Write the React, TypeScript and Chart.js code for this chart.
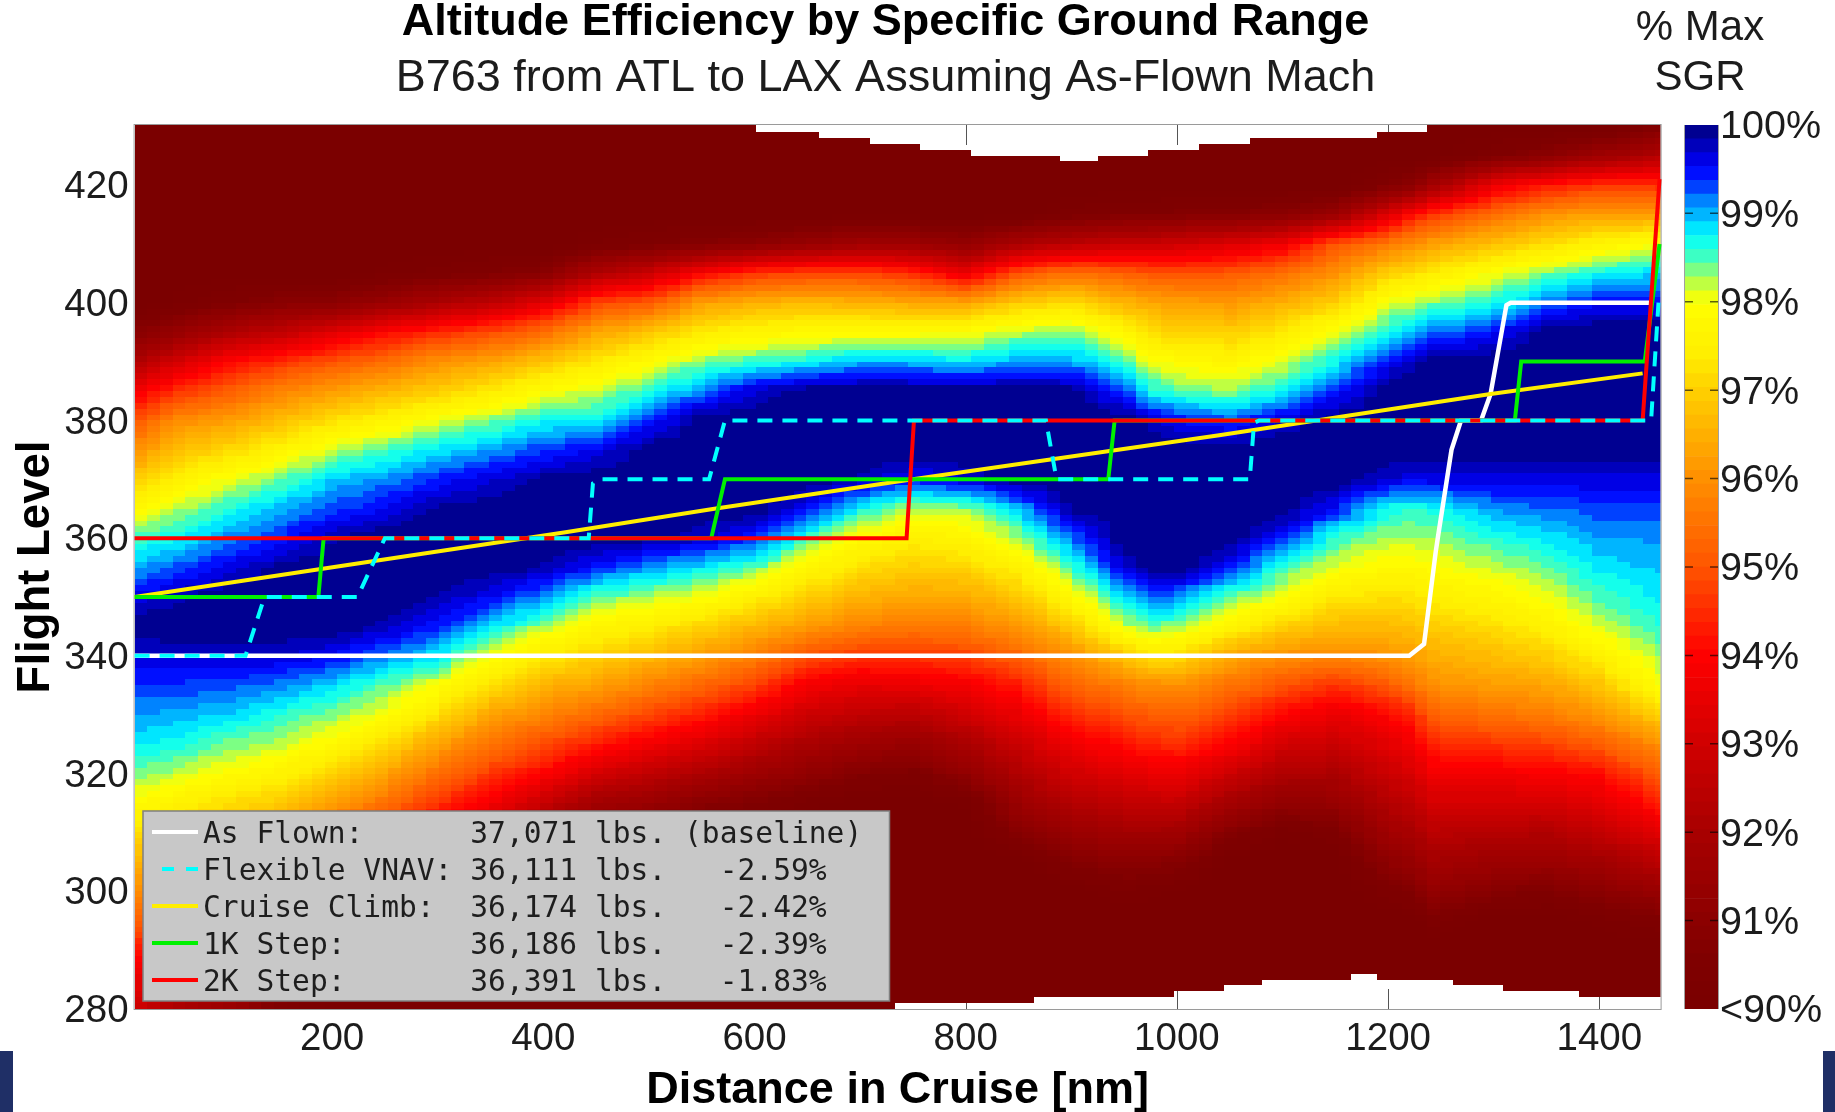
import React, { useEffect, useRef } from "react";
import { Chart, registerables } from "chart.js";

Chart.register(...registerables);

// ---- Heat map: % of max SGR at these stations (nm) and flight levels ----
const FLIGHT_LEVELS = [280,285,290,295,300,305,310,315,320,325,330,335,340,345,350,355,360,365,370,375,380,385,390,395,400,405,410,415,420,425,430];
const STATIONS = [13,50,100,150,200,250,300,350,400,450,500,550,600,650,700,750,800,850,900,950,975,1000,1050,1100,1150,1200,1225,1240,1300,1350,1400,1458];
const col13 = [93,93.6,94.3,95.2,96,96.6,97.25,97.9,98.4,98.8,99.1,99.35,99.65,100,99.6,99,98.5,97.8,96.9,96,94.9,93.7,92.1,90.8,90,90,90,90,90,90,90];
const col50 = [92,93,94,94.8,95.5,96.3,96.9,97.6,98.2,98.7,99,99.35,99.7,100,99.8,99.25,98.7,98.2,97.5,96.7,95.9,94.5,93,91.3,90.2,90,90,90,90,90,90];
const col100 = [91.5,92.5,93.6,94.4,95.1,95.9,96.5,97.2,97.9,98.4,98.9,99.3,99.7,100,100,99.6,99.1,98.6,98,97.1,96.2,95.1,94,92.1,90.6,90,90,90,90,90,90];
const col150 = [90.5,91,92.2,93.5,94.5,95.5,96.3,96.9,97.6,98.2,98.6,99.15,99.7,100,100,99.9,99.4,99,98.4,97.6,96.7,95.75,94.5,92.6,90.9,90,90,90,90,90,90];
const col200 = [90,90.6,91.4,92.4,93.4,94.4,95.3,96.2,97,97.8,98.35,98.85,99.55,100,100,100,99.8,99.3,98.9,98.2,97.2,96.2,95,93.3,91,90,90,90,90,90,90];
const col250 = [90,90,90.4,91.2,92.4,93.5,94.5,95.5,96.3,97.2,98,98.45,99.15,99.8,100,100,100,99.55,99.1,98.5,97.6,96.6,95.4,94,91.5,90.2,90,90,90,90,90];
const col300 = [90,90,90,90.3,91.2,92.4,93.5,94.55,95.45,96.3,97.2,98,98.8,99.45,99.85,100,100,99.9,99.4,98.8,98.05,96.95,96,94.45,92.1,90.4,90,90,90,90,90];
const col350 = [90,90,90,90,90.4,91.3,92.6,93.8,94.65,95.5,96.35,97.2,98,98.9,99.55,100,100,100,99.65,99.05,98.35,97.35,96.3,94.85,92.6,90.6,90,90,90,90,90];
const col400 = [90,90,90,90,90,90.5,91.5,92.75,94,94.9,95.8,96.55,97.4,98.25,99.1,99.85,100,100,99.9,99.35,98.7,97.9,96.8,95.4,93.4,90.9,90,90,90,90,90];
const col450 = [90,90,90,90,90,90,90.6,91.8,93.1,94.3,95.35,96.3,97,97.7,98.45,99.45,100,100,100,99.55,98.7,98.2,97.35,96.3,94.8,92.2,90.3,90,90,90,90];
const col500 = [90,90,90,90,90,90,90.4,91.45,92.6,93.75,94.8,95.8,96.65,97.45,98.25,99.05,99.9,100,100,100,99.35,98.55,97.9,96.8,95.1,92.9,90.5,90,90,90,90];
const col550 = [90,90,90,90,90,90,90,90.9,92.1,93.3,94.3,95.3,96.25,97.05,98,98.8,99.75,100,100,100,100,99.15,98.35,97.4,96.25,93.9,90.8,90,90,90,90];
const col600 = [90,90,90,90,90,90,90,90.6,91.6,92.6,93.6,94.75,95.7,96.6,97.5,98.45,99.35,100,100,100,100,99.7,98.55,97.65,96.55,94.6,91,90,90,90,90];
const col650 = [90,90,90,90,90,90,90,90.2,91.2,92,92.9,93.8,95,96.15,97,97.75,98.55,99.5,100,100,100,100,98.7,97.8,96.65,94.75,91.4,90,90,90,90];
const col700 = [90,90,90,90,90,90,90,90,90.7,91.65,92.6,93.5,94.6,95.75,96.55,97.2,97.85,98.7,99.8,100,100,100,99,97.85,96.55,94.8,91.75,90,90,90,90];
const col750 = [90,90,90,90,90,90,90,90,90.5,91.4,92.45,93.6,94.6,95.6,96.35,96.95,97.5,98.2,99.5,100,100,100,98.95,97.85,96.4,94.45,91.6,90,90,90,90];
const col800 = [90,90,90,90,90,90,90,90.2,91.2,92.05,92.95,93.8,94.75,95.7,96.4,97.05,97.65,98.3,99.7,100,100,100,98.8,97.95,96.35,93.55,91.25,90,90,90,90];
const col850 = [90,90,90,90,90,90,90.8,91.55,92.2,92.85,93.55,94.3,95.25,96.15,96.85,97.55,98.25,98.95,100,100,100,100,99.05,98.2,96.95,95,92.1,90,90,90,90];
const col900 = [90,90,90,90,90,90.7,91.5,92.25,93,93.7,94.45,95.25,96,96.9,97.8,98.5,99.2,99.9,100,100,100,99.95,99.05,98.35,97.2,95.45,92.5,90.4,90,90,90];
const col950 = [90,90,90,90,90.3,91,91.8,92.6,93.35,94.15,94.9,95.7,96.85,98.15,98.85,99.7,100,100,100,100,100,99.3,98.5,97.7,96.6,95.2,92.8,90.6,90,90,90];
const col975 = [90,90,90,90,90.2,90.9,91.8,92.7,93.55,94.4,95.15,95.95,97.3,98.45,99.25,100,100,100,100,100,99.8,98.65,98.05,97.2,96.4,95,92.8,90.6,90,90,90];
const col1000 = [90,90,90,90,90.1,90.8,91.75,92.75,93.7,94.5,95.25,96,97.25,98.3,99.15,100,100,100,100,100,99.55,98.45,97.85,97,96.25,94.95,92.95,90.7,90,90,90];
const col1050 = [90,90,90,90,90,90,90.8,91.85,92.9,94,94.75,95.55,96.35,97.65,98.45,99.45,100,100,100,100,99.3,98.3,97.7,96.95,96.15,95.05,93.25,90.8,90,90,90];
const col1100 = [90,90,90,90,90,90,90.2,91.2,92.15,93.05,94,95,96,97,98,98.55,99.45,100,100,100,99.7,98.7,98.1,97.35,96.5,95.4,93.7,90.95,90,90,90];
const col1150 = [90,90,90,90,90,90,90.5,91.35,92.1,92.85,93.55,94.55,95.85,96.65,97.35,98.05,98.55,99.45,100,100,100,99.4,98.7,98.05,97,96,95,91.5,90,90,90];
const col1200 = [90,90,90,90,90.4,91.1,91.75,92.3,92.85,93.4,94,95.1,96.1,96.65,97.2,97.8,98.25,98.65,99.7,100,100,100,99.5,98.7,98.05,97,95.6,93.25,90.6,90,90];
const col1225 = [90,90,90,90,90.7,91.4,92,92.6,93.2,93.8,94.45,95.55,96.25,96.75,97.3,97.8,98.25,98.6,99.6,100,100,100,99.8,99,98.25,97.2,96,94.2,91,90,90];
const col1240 = [90,90,90,90.4,91.25,91.85,92.45,93.1,93.7,94.4,95.2,96,96.45,96.95,97.45,97.9,98.3,98.65,99.65,100,100,100,100,99.15,98.35,97.4,96.25,94.55,91.7,90,90];
const col1300 = [90,90,90,90,90.8,91.6,92.3,93.05,93.8,94.6,95.5,96.2,96.7,97.2,97.7,98.2,98.6,99.1,99.65,100,100,100,100,99.45,98.65,98,96.75,95.4,93.6,90.5,90];
const col1350 = [90,90,90,90,90.6,91.5,92.25,93.05,93.85,94.75,95.65,96.35,96.95,97.55,98.05,98.4,98.8,99.2,99.65,100,100,100,100,100,99.2,98.35,97.2,96,94.2,91,90];
const col1400 = [90,90,90,90.2,91,91.8,92.6,93.4,94.1,95.15,96.1,96.8,97.55,98.15,98.5,98.8,99.05,99.3,99.65,100,100,100,100,100,99.5,98.7,97.6,96.25,94.6,91.6,90];
const col1458 = [90,90,90,90.5,91.45,92.45,93.4,94.35,95.15,96,97,98,98.3,98.6,98.8,98.95,99.1,99.3,99.65,100,100,100,100,100,99.5,98.9,98,96.2,94.5,92.3,90.6];
const COLUMNS = [col13,col50,col100,col150,col200,col250,col300,col350,col400,col450,col500,col550,col600,col650,col700,col750,col800,col850,col900,col950,col975,col1000,col1050,col1100,col1150,col1200,col1225,col1240,col1300,col1350,col1400,col1458];

// Edges of the no-data areas (white stair steps): the limit applies from each distance on
const TOP_GAP_NM = [602,656,712,763,807,895,921,969,1021,1073,1185,1234];
const TOP_GAP_FL = [429,428,427,426,425,424,425,426,427,428,429,431];
const BOTTOM_GAP_NM = [736,865,994,1047,1080,1166,1185,1256,1313,1384];
const BOTTOM_GAP_FL = [281,282,283,284,285,286,285,284,283,282];

// ---- Flight profiles ----
const asFlownNm = [13,1220,1234,1245,1247,1260,1269,1288,1297,1312,1316,1447];
const asFlownFl = [340,340,342,357.6,360,375,380,380,384.5,399.6,400,400];
const vnavNm = [13,118,136,224,250,443,447,454,557,572,876,886,1069,1073,1078,1449,1456];
const vnavFl = [340,340,350,350,360,360,369.3,370,370,380,380,370,370,379.6,380,380,400];
const climbNm = [13,191,421,562,750,1040,1297,1441];
const climbFl = [350,354.8,361,365,370,377.5,384.5,388];
const oneKNm = [13,187,192,559,572,935,941,1320,1326,1443,1457];
const oneKFl = [350,350,360,360,370,370,380,380,390,390,410];
const twoKNm = [13,744,751,1441,1457];
const twoKFl = [360,360,380,380,421];

// ---- Legend table ----
const LEGEND_NAMES = ["As Flown:","Flexible VNAV:","Cruise Climb:","1K Step:","2K Step:"];
const LEGEND_FUEL = ["37,071","36,111","36,174","36,186","36,391"];
const LEGEND_DELTA = [" (baseline)","   -2.59%","   -2.42%","   -2.39%","   -1.83%"];

// ---- Axes ----
const X_TICKS = [200,400,600,800,1000,1200,1400];
const Y_TICKS = [280,300,320,340,360,380,400,420];
const BAR_TICKS = [90,91,92,93,94,95,96,97,98,99,100];

// ---- Colour map: stops of the colour bar, 64 discrete levels ----
const STOP_VALUES = [90,90.6,91,92,93,94,95,96,97,97.4,98,98.2,98.35,98.5,98.75,98.95,99.15,99.3,99.5,99.7,99.85,100];
const STOP_COLORS = [[122,0,0],[128,0,0],[140,0,0],[168,0,0],[208,0,0],[255,0,0],[255,85,0],[255,144,0],[255,208,0],[255,238,0],[255,255,0],[192,255,64],[128,255,128],[64,255,192],[0,255,255],[0,192,255],[0,128,255],[0,64,255],[0,0,255],[0,0,208],[0,0,160],[0,0,128]];
const LEVELS = 64;
const SANS = '"Liberation Sans", Arial, sans-serif';
const INK = "#1c1c1c";

function colorAt(v: number) {
  const c = Math.min(100, Math.max(90, v));
  let i = 0;
  while (i < STOP_VALUES.length - 2 && c > STOP_VALUES[i + 1]) i++;
  const t = (c - STOP_VALUES[i]) / (STOP_VALUES[i + 1] - STOP_VALUES[i]);
  const a = STOP_COLORS[i], b = STOP_COLORS[i + 1];
  return `rgb(${Math.round(a[0] + (b[0] - a[0]) * t)},${Math.round(a[1] + (b[1] - a[1]) * t)},${Math.round(a[2] + (b[2] - a[2]) * t)})`;
}
const LEVEL_COLORS: string[] = [];
for (let i = 0; i < LEVELS; i++) LEVEL_COLORS.push(colorAt(90 + ((i + 0.5) * 10) / LEVELS));
const levelColor = (v: number) => LEVEL_COLORS[Math.min(LEVELS - 1, Math.max(0, Math.floor(((v - 90) / 10) * LEVELS)))];

function stepLimit(nm: number, edges: number[], limits: number[], start: number) {
  let out = start;
  for (let i = 0; i < edges.length; i++) if (nm >= edges[i]) out = limits[i];
  return out;
}
const pairs = (xs: number[], ys: number[]) => xs.map((x, i) => ({ x, y: ys[i] }));

// Draws the read grid as shaded cells (like pcolor with interpolated shading), placed by the chart's scales.
const heatPlugin = {
  id: "heat",
  beforeDatasetsDraw(chart: any) {
    const { ctx, chartArea: a } = chart;
    const xs = chart.scales.x, ys = chart.scales.y;
    ctx.save();
    ctx.strokeStyle = "#555";
    ctx.lineWidth = 1;
    ctx.beginPath();
    X_TICKS.forEach((t) => {
      const p = Math.round(xs.getPixelForValue(t)) + 0.5;
      ctx.moveTo(p, a.top); ctx.lineTo(p, a.top + 20);
      ctx.moveTo(p, a.bottom); ctx.lineTo(p, a.bottom - 20);
    });
    ctx.stroke();
    ctx.beginPath(); ctx.rect(a.left, a.top, a.right - a.left, a.bottom - a.top); ctx.clip();
    const data = chart.data.datasets.find((d: any) => d.label === "% Max SGR").data;
    const nR = FLIGHT_LEVELS.length;
    const at = (c: number, r: number) => data[c * nR + r].v;
    const cellNm = 12;
    for (let nm = xs.min; nm < xs.max; nm += cellNm) {
      const mid = Math.min(xs.max, nm + cellNm / 2);
      let c = 0;
      while (c < STATIONS.length - 2 && mid > STATIONS[c + 1]) c++;
      const tx = (mid - STATIONS[c]) / (STATIONS[c + 1] - STATIONS[c]);
      const hi = stepLimit(mid, TOP_GAP_NM, TOP_GAP_FL, 431);
      const lo = stepLimit(mid, BOTTOM_GAP_NM, BOTTOM_GAP_FL, 280);
      const x0 = Math.round(xs.getPixelForValue(nm));
      const x1 = Math.round(xs.getPixelForValue(nm + cellNm));
      for (let fl = lo; fl < hi; fl++) {
        const fm = fl + 0.5;
        const r = Math.min(nR - 2, Math.floor((fm - 280) / 5));
        const ty = (fm - FLIGHT_LEVELS[r]) / 5;
        const v = (1 - tx) * ((1 - ty) * at(c, r) + ty * at(c, r + 1)) + tx * ((1 - ty) * at(c + 1, r) + ty * at(c + 1, r + 1));
        const y0 = Math.round(ys.getPixelForValue(fl + 1));
        const y1 = Math.round(ys.getPixelForValue(fl));
        ctx.fillStyle = levelColor(v);
        ctx.fillRect(x0, y0, x1 - x0, y1 - y0);
      }
    }
    ctx.restore();
    ctx.save();
    ctx.strokeStyle = "#9a9a9a";
    ctx.lineWidth = 1;
    ctx.strokeRect(a.left - 0.5, a.top - 0.5, a.right - a.left + 1, a.bottom - a.top + 1);
    ctx.restore();
  },
};

// Legend table, drawn over the lines, with its swatches taken from the datasets
const legendPlugin = {
  id: "tableLegend",
  afterDatasetsDraw(chart: any) {
    const { ctx } = chart;
    const series = LEGEND_NAMES.map((_, i) => chart.data.datasets[i]);
    const left = 143, top = 811, w = 746.5, h = 190;
    ctx.save();
    ctx.fillStyle = "#c8c8c8";
    ctx.strokeStyle = "#7f7f7f";
    ctx.lineWidth = 1.5;
    ctx.fillRect(left, top, w, h);
    ctx.strokeRect(left, top, w, h);
    ctx.font = '29.6px "DejaVu Sans Mono", monospace';
    ctx.textBaseline = "middle";
    LEGEND_NAMES.forEach((name, i) => {
      const cy = top + 24 + i * 37;
      ctx.strokeStyle = series[i].borderColor;
      ctx.lineWidth = 4;
      ctx.setLineDash(series[i].borderDash ? [12, 12] : []);
      ctx.beginPath();
      ctx.moveTo(i === 1 ? 162 : 152, cy - 3);
      ctx.lineTo(198, cy - 3);
      ctx.stroke();
      ctx.setLineDash([]);
      ctx.fillStyle = "#1e1e1e";
      ctx.fillText(`${name.padEnd(15)}${LEGEND_FUEL[i]} lbs.${LEGEND_DELTA[i]}`, 203, cy);
    });
    ctx.restore();
  },
};

// Inward ticks and side rules of the colour bar
const barTicksPlugin = {
  id: "barTicks",
  afterDatasetsDraw(chart: any) {
    const { ctx, chartArea: a } = chart;
    const ys = chart.scales.y;
    ctx.save();
    ctx.strokeStyle = "#a0a0a0";
    ctx.lineWidth = 1;
    ctx.beginPath();
    ctx.moveTo(a.left - 0.5, a.top); ctx.lineTo(a.left - 0.5, a.bottom);
    ctx.moveTo(a.right + 0.5, a.top); ctx.lineTo(a.right + 0.5, a.bottom);
    ctx.stroke();
    ctx.strokeStyle = "rgba(0,0,0,0.62)";
    ctx.lineWidth = 1.5;
    ctx.beginPath();
    BAR_TICKS.slice(1, -1).forEach((t) => {
      const p = ys.getPixelForValue(t);
      ctx.moveTo(a.left, p); ctx.lineTo(a.left + 8, p);
      ctx.moveTo(a.right - 8, p); ctx.lineTo(a.right, p);
    });
    ctx.stroke();
    ctx.restore();
  },
};

const lineDs = (label: string, xs: number[], ys: number[], color: string, order: number, width: number, dash?: number[]) => ({
  type: "scatter", label, data: pairs(xs, ys), xAxisID: "x", yAxisID: "y", showLine: true, borderColor: color, backgroundColor: color,
  borderWidth: width, borderDash: dash, pointRadius: 0, tension: 0, order, clip: 2,
});

// A spacer axis keeps room beside the plot without moving the centred titles
const spacerAxis = (position: string, width: number) => ({
  type: "linear", position, display: true, min: 0, max: 1,
  grid: { display: false, drawTicks: false }, border: { display: false },
  ticks: { display: false },
  afterFit: (s: any) => { s.width = width; },
});

export default function App() {
  const mainRef = useRef<HTMLCanvasElement>(null);
  const barRef = useRef<HTMLCanvasElement>(null);

  useEffect(() => {
    document.body.style.margin = "0";
    const heatData: any[] = [];
    COLUMNS.forEach((col, c) => col.forEach((v, r) => heatData.push({ x: STATIONS[c], y: FLIGHT_LEVELS[r], v })));

    const main = new Chart(mainRef.current as any, {
      type: "scatter",
      data: {
        datasets: [
          lineDs("As Flown", asFlownNm, asFlownFl, "#ffffff", 4, 4.5),
          lineDs("Flexible VNAV", vnavNm, vnavFl, "#00ffff", 0, 4, [15, 10]),
          lineDs("Cruise Climb", climbNm, climbFl, "#ffee00", 3, 4),
          lineDs("1K Step", oneKNm, oneKFl, "#00f000", 2, 4),
          lineDs("2K Step", twoKNm, twoKFl, "#ff0000", 1, 4),
          { type: "scatter", label: "% Max SGR", data: heatData, xAxisID: "x", yAxisID: "y", pointRadius: 0, showLine: false, order: 9 },
        ] as any,
      },
      options: {
        responsive: false,
        animation: false,
        events: [],
        plugins: {
          legend: { display: false },
          tooltip: { enabled: false },
          title: {
            display: true, text: "Altitude Efficiency by Specific Ground Range", color: "#000",
            font: { family: SANS, size: 45, weight: "bold", lineHeight: 1 }, padding: { top: 0, bottom: 11.5 },
          },
          subtitle: {
            display: true, text: "B763 from ATL to LAX Assuming As-Flown Mach", color: INK,
            font: { family: SANS, size: 45, weight: "normal", lineHeight: 1 }, padding: { top: 0, bottom: 23.5 },
          },
        },
        scales: {
          x: {
            type: "linear", min: 13, max: 1458,
            grid: { display: false, drawTicks: false }, border: { display: false },
            afterBuildTicks: (s: any) => { s.ticks = X_TICKS.map((value) => ({ value })); },
            afterFit: (s: any) => { s.height = 103; },
            ticks: { color: INK, font: { family: SANS, size: 38.5 }, padding: 7, maxRotation: 0, autoSkip: false, callback: (v: any) => String(v) },
            title: { display: true, text: "Distance in Cruise [nm]", color: "#000", font: { family: SANS, size: 45, weight: "bold", lineHeight: 1 }, padding: { top: 0, bottom: -1 } },
          },
          y: {
            type: "linear", min: 280, max: 430.2,
            grid: { display: false, drawTicks: false }, border: { display: false },
            afterBuildTicks: (s: any) => { s.ticks = Y_TICKS.map((value) => ({ value })); },
            afterFit: (s: any) => { s.width = 134.6; },
            ticks: { color: INK, font: { family: SANS, size: 38.5 }, padding: 6, autoSkip: false, labelOffset: 2.5 },
            title: { display: true, text: "Flight Level", color: "#000", font: { family: SANS, size: 45.5, weight: "bold", lineHeight: 1 }, padding: { top: 13.5, bottom: 0 } },
          },
          rightSpace: spacerAxis("right", 110.4),
        },
      } as any,
      plugins: [heatPlugin, legendPlugin],
    });

    const bar = new Chart(barRef.current as any, {
      type: "bar",
      data: {
        labels: ["% Max SGR"],
        datasets: LEVEL_COLORS.map((color, i) => ({
          label: `${i}`,
          data: [[90 + (i * 10) / LEVELS, 90 + ((i + 1) * 10) / LEVELS]],
          xAxisID: "x", yAxisID: "y",
          backgroundColor: color, borderWidth: 0, stack: "bar", barPercentage: 1, categoryPercentage: 1,
        })),
      } as any,
      options: {
        responsive: false,
        animation: false,
        events: [],
        layout: { padding: { left: 0, right: 0, top: 0, bottom: 103 } },
        plugins: {
          legend: { display: false },
          tooltip: { enabled: false },
          title: {
            display: true, text: ["% Max", "SGR"], color: INK,
            font: { family: SANS, size: 42, weight: "normal", lineHeight: 1.19 }, padding: { top: 3, bottom: 22 },
          },
        },
        scales: {
          x: { display: false, stacked: true },
          y: {
            type: "linear", position: "right", min: 90, max: 100, stacked: false,
            grid: { display: false, drawTicks: false }, border: { display: false },
            afterBuildTicks: (s: any) => { s.ticks = BAR_TICKS.map((value) => ({ value })); },
            afterFit: (s: any) => { s.width = 117; },
            ticks: { color: INK, font: { family: SANS, size: 39.5 }, padding: 2, autoSkip: false, labelOffset: 2.5, callback: (v: any) => (v === 90 ? "<90%" : `${v}%`) },
          },
          leftSpace: spacerAxis("left", 120),
        },
      } as any,
      plugins: [barTicksPlugin],
    });

    return () => { main.destroy(); bar.destroy(); };
  }, []);

  const navy = { position: "absolute" as const, top: 1051, height: 61, background: "#1f2f66" };
  const soft = { position: "absolute" as const, top: 0, filter: "blur(0.6px)" };
  return (
    <div style={{ position: "relative", width: 1835, height: 1112, overflow: "hidden", background: "#fff" }}>
      <canvas ref={mainRef} width={1771} height={1112} style={{ ...soft, left: 0 }} />
      <canvas ref={barRef} width={270} height={1112} style={{ ...soft, left: 1565 }} />
      <div style={{ ...navy, left: 0, width: 13 }} />
      <div style={{ ...navy, left: 1823, width: 12 }} />
    </div>
  );
}
